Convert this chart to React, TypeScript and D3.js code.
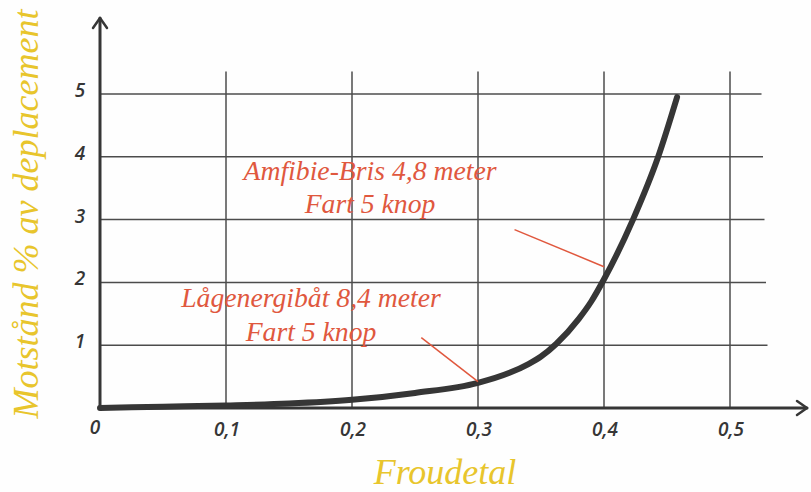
import React from 'react';
import * as d3 from 'd3';

const WIDTH = 811;
const HEIGHT = 492;

// Froudetal och motstånd (% av deplacement), avläst ur kurvan
const froude = [0, 0.05, 0.1, 0.15, 0.2, 0.25, 0.3, 0.325, 0.34, 0.35, 0.362, 0.38, 0.39, 0.4, 0.423, 0.443, 0.458];
const resistance = [0, 0.02, 0.04, 0.07, 0.13, 0.24, 0.4, 0.56, 0.7, 0.82, 1.02, 1.42, 1.7, 2.05, 3.0, 4.0, 4.95];

const xTicks = [0.1, 0.2, 0.3, 0.4, 0.5];
const xTickLabels = ['0,1', '0,2', '0,3', '0,4', '0,5'];
const yTicks = [1, 2, 3, 4, 5];

// etiketter: [rad 1, rad 2], ankare i dataenheter, ledarlinje start/slut
const notes = [
  {
    lines: ['Amfibie-Bris 4,8 meter', 'Fart 5 knop'],
    at: [0.2143, 3.636],
    gap: 33,
    from: [0.329, 2.84],
    to: [0.4, 2.25],
  },
  {
    lines: ['Lågenergibåt 8,4 meter', 'Fart 5 knop'],
    at: [0.1675, 1.61],
    gap: 34,
    from: [0.255, 1.12],
    to: [0.3, 0.42],
  },
];

const RED = '#e0583e';
const YELLOW = '#e8c52c';
const INK = '#363636';
const GRID = '#4c4c4c';
const HAND = '"Open Sans", "Noto Sans", sans-serif';
const SERIF = '"Liberation Serif", "DejaVu Serif", serif';

const App = () => {
  const x = d3.scaleLinear().domain([0, 0.5]).range([100, 730]);
  const y = d3.scaleLinear().domain([0, 5]).range([408, 94]);

  const gridRight = x(0.525);
  const gridTop = y(5.36);

  const line = d3
    .line<number>()
    .x((d, i) => x(froude[i]))
    .y((d) => y(d))
    .curve(d3.curveMonotoneX);

  const axisTop = 18;
  const axisRight = 807;

  return (
    <svg
      width={WIDTH}
      height={HEIGHT}
      viewBox={`0 0 ${WIDTH} ${HEIGHT}`}
      style={{ position: 'absolute', left: 0, top: 0, background: '#fefefe' }}
    >
      {/* rutnät */}
      <g stroke={GRID} strokeWidth={1.5}>
        {yTicks.map((t) => (
          <line key={'h' + t} x1={x(0)} x2={gridRight + (5 - t) * 1.5} y1={y(t)} y2={y(t)} />
        ))}
        {xTicks.map((t) => (
          <line key={'v' + t} x1={x(t)} x2={x(t)} y1={gridTop} y2={y(0)} />
        ))}
      </g>

      {/* axlar med pilar */}
      <g stroke={INK} strokeWidth={3} fill="none" strokeLinecap="round" strokeLinejoin="round">
        <line x1={x(0)} x2={x(0)} y1={y(0)} y2={axisTop} />
        <polyline points={`${x(0) - 7},${axisTop + 10} ${x(0)},${axisTop} ${x(0) + 7},${axisTop + 10}`} strokeWidth={2.5} />
        <line x1={x(0)} x2={axisRight} y1={y(0)} y2={y(0)} />
        <polyline points={`${axisRight - 10},${y(0) - 7} ${axisRight},${y(0)} ${axisRight - 10},${y(0) + 7}`} strokeWidth={2.5} />
      </g>

      {/* skalor */}
      <g fill={INK} fontFamily={HAND} fontSize={19} fontStyle="italic" fontWeight={600}>
        {yTicks.map((t) => (
          <text key={'yl' + t} x={x(0) - 20} y={y(t) - 2} textAnchor="middle" dominantBaseline="middle">
            {t}
          </text>
        ))}
        <text x={x(0) - 5} y={y(0) + 21} textAnchor="middle" dominantBaseline="middle">
          0
        </text>
        {xTicks.map((t, i) => (
          <text key={'xl' + t} x={x(t) + 1} y={y(0) + 23} textAnchor="middle" dominantBaseline="middle">
            {xTickLabels[i]}
          </text>
        ))}
      </g>

      {/* kurva */}
      <path
        d={line(resistance) || ''}
        fill="none"
        stroke={INK}
        strokeWidth={6}
        strokeLinecap="round"
        strokeLinejoin="round"
      />

      {/* etiketter */}
      {notes.map((n) => (
        <g key={n.lines[0]}>
          <line x1={x(n.from[0])} y1={y(n.from[1])} x2={x(n.to[0])} y2={y(n.to[1])} stroke={RED} strokeWidth={1.5} />
          <text fill={RED} fontFamily={SERIF} fontStyle="italic" fontSize={27.7} textAnchor="middle">
            {n.lines.map((l, i) => (
              <tspan key={l} x={x(n.at[0])} y={y(n.at[1]) + i * n.gap}>
                {l}
              </tspan>
            ))}
          </text>
        </g>
      ))}

      {/* axeltitlar */}
      <text x={445} y={484} fill={YELLOW} fontFamily={SERIF} fontStyle="italic" fontSize={36} textAnchor="middle">
        Froudetal
      </text>
      <text
        transform={`translate(38, 214) rotate(-90)`}
        fill={YELLOW}
        fontFamily={SERIF}
        fontStyle="italic"
        fontSize={36}
        textAnchor="middle"
      >
        Motstånd % av deplacement
      </text>
    </svg>
  );
};

export default App;
